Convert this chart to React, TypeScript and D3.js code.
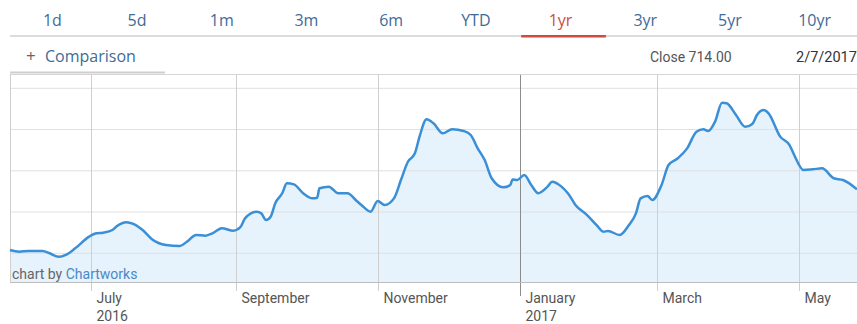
import React from 'react';
import * as d3 from 'd3';

const tabs = ['1d', '5d', '1m', '3m', '6m', 'YTD', '1yr', '3yr', '5yr', '10yr'];
const activeTab = '1yr';
const comparisonLabel = 'Comparison';
const closeLabel = 'Close 714.00';
const closeDate = '2/7/2017';

const dates = [
  '2016-05-27', '2016-05-31', '2016-06-04', '2016-06-10', '2016-06-13', '2016-06-17', '2016-06-20', '2016-06-24',
  '2016-06-30', '2016-07-03', '2016-07-06', '2016-07-10', '2016-07-12', '2016-07-16', '2016-07-19', '2016-07-23',
  '2016-07-27', '2016-08-02', '2016-08-08', '2016-08-11', '2016-08-15', '2016-08-19', '2016-08-22', '2016-08-26',
  '2016-08-31', '2016-09-03', '2016-09-05', '2016-09-10', '2016-09-12', '2016-09-14', '2016-09-16', '2016-09-18',
  '2016-09-21', '2016-09-23', '2016-09-26', '2016-09-30', '2016-10-04', '2016-10-06', '2016-10-07', '2016-10-11',
  '2016-10-15', '2016-10-19', '2016-10-23', '2016-10-25', '2016-10-29', '2016-11-01', '2016-11-04', '2016-11-08',
  '2016-11-11', '2016-11-14', '2016-11-17', '2016-11-19', '2016-11-22', '2016-11-25', '2016-11-29', '2016-12-03',
  '2016-12-08', '2016-12-11', '2016-12-14', '2016-12-17', '2016-12-20', '2016-12-25', '2016-12-28', '2016-12-29',
  '2016-12-31', '2017-01-03', '2017-01-06', '2017-01-09', '2017-01-13', '2017-01-15', '2017-01-19', '2017-01-22',
  '2017-01-25', '2017-01-30', '2017-02-03', '2017-02-06', '2017-02-08', '2017-02-13', '2017-02-17', '2017-02-20',
  '2017-02-22', '2017-02-25', '2017-02-27', '2017-03-03', '2017-03-06', '2017-03-10', '2017-03-14', '2017-03-18',
  '2017-03-21', '2017-03-23', '2017-03-26', '2017-03-29', '2017-03-31', '2017-04-04', '2017-04-08', '2017-04-11',
  '2017-04-13', '2017-04-16', '2017-04-18', '2017-04-23', '2017-04-27', '2017-04-29', '2017-05-03', '2017-05-07',
  '2017-05-11', '2017-05-16', '2017-05-20', '2017-05-26',
];

const prices = [
  702.0, 701.0, 701.4, 701.4, 700.0, 697.9, 699.0, 703.0,
  710.1, 712.1, 712.5, 714.1, 716.5, 718.8, 717.8, 714.1,
  708.5, 705.0, 704.4, 707.0, 711.1, 710.7, 712.1, 715.2,
  713.7, 715.8, 721.2, 725.2, 724.2, 720.2, 722.2, 730.3,
  736.4, 742.4, 741.8, 736.4, 733.3, 733.7, 739.4, 740.4,
  736.4, 736.4, 731.7, 729.3, 725.2, 731.7, 729.3, 733.3,
  744.4, 755.5, 760.6, 770.7, 781.2, 778.8, 772.7, 775.2,
  774.1, 771.7, 763.6, 756.5, 745.5, 740.0, 741.4, 744.8,
  744.4, 747.5, 741.4, 736.4, 740.4, 743.4, 740.4, 735.9,
  729.3, 723.2, 717.2, 713.1, 713.5, 711.1, 717.2, 724.2,
  733.3, 734.7, 732.3, 741.4, 753.5, 757.6, 763.6, 773.7,
  775.2, 774.1, 779.8, 791.3, 790.9, 783.8, 776.7, 778.4,
  783.8, 786.8, 784.8, 770.7, 765.6, 759.6, 750.5, 750.9,
  751.5, 745.5, 744.4, 738.8,
];

const yGridValues = [700, 725, 750, 775, 800];
const monthTicks = ['2016-07-01', '2016-09-01', '2016-11-01', '2017-01-01', '2017-03-01', '2017-05-01'];
const monthLabels = ['July', 'September', 'November', 'January', 'March', 'May'];
const yearLabels = ['2016', '', '', '2017', '', ''];
const domainStart = '2016-05-27';
const domainEnd = '2017-05-26';

const W = 857;
const H = 324;
const plotLeft = 10;
const plotRight = 857;
const plotTop = 74;
const plotBottom = 282;

const parse = d3.timeParse('%Y-%m-%d');

export default function App() {
  const data = dates.map((d, i) => ({ date: parse(d) as Date, value: prices[i] }));
  const x = d3
    .scaleTime()
    .domain([parse(domainStart) as Date, parse(domainEnd) as Date])
    .range([plotLeft, plotRight]);
  const y = d3.scaleLinear().domain([700, 800]).range([253.3, 88.3]);

  const line = d3
    .line<{ date: Date; value: number }>()
    .x((d) => x(d.date))
    .y((d) => y(d.value))
    .curve(d3.curveMonotoneX);
  const area = d3
    .area<{ date: Date; value: number }>()
    .x((d) => x(d.date))
    .y0(plotBottom)
    .y1((d) => y(d.value))
    .curve(d3.curveMonotoneX);

  const tabW = (W - plotLeft) / tabs.length;
  const blue = '#3f6b98';
  const font = "'Open Sans', sans-serif";
  const labelFont = 'Roboto, sans-serif';

  return (
    <div style={{ position: 'absolute', left: 0, top: 0 }}>
      <svg width={W} height={H} style={{ display: 'block', background: '#fff' }}>
        {/* tabs */}
        {tabs.map((t, i) => (
          <text
            key={t}
            x={plotLeft + tabW * (i + 0.5)}
            y={26}
            textAnchor="middle"
            fontFamily={font}
            fontSize={16}
            fontWeight={500}
            fill={t === activeTab ? '#cf4b3c' : blue}
          >
            {t}
          </text>
        ))}
        <rect x={plotLeft} y={35} width={W - plotLeft} height={2} fill="#dcdcdc" />
        {tabs.map((t, i) =>
          t === activeTab ? (
            <rect key={'u' + t} x={plotLeft + tabW * i + 3} y={35} width={tabW} height={2.5} fill="#cf4b3c" />
          ) : null
        )}

        {/* comparison row */}
        <text x={26} y={62} fontFamily={font} fontSize={17} fill="#666">+</text>
        <text x={45} y={62} fontFamily={font} fontSize={16} fontWeight={500} fill={blue}>{comparisonLabel}</text>
        <rect x={plotLeft} y={71.5} width={155} height={2} fill="#cfcfcf" />
        <text x={650} y={62} fontFamily={labelFont} fontSize={14} fill="#555">{closeLabel}</text>
        <text x={796} y={62} fontFamily={labelFont} fontSize={14.5} fill="#333">{closeDate}</text>

        {/* plot */}
        <path d={area(data) || ''} fill="#e6f2fc" />
        {yGridValues.map((v) => (
          <line key={v} x1={plotLeft} x2={plotRight} y1={y(v)} y2={y(v)} stroke="#e0e0e0" strokeWidth={1} />
        ))}
        {monthTicks.map((m, i) => {
          const xx = Math.round(x(parse(m) as Date)) + 0.5;
          const isYear = yearLabels[i] !== '';
          const strong = isYear && i > 0;
          return (
            <g key={m}>
              <line
                x1={xx}
                x2={xx}
                y1={plotTop}
                y2={strong ? 296 : 291}
                stroke={strong ? '#8c8c8c' : '#cfcfcf'}
                strokeWidth={1}
              />
              <text x={xx + 5} y={303} fontFamily={labelFont} fontSize={14} fill="#555">
                {monthLabels[i]}
              </text>
              {isYear && (
                <text x={xx + 5} y={321} fontFamily={labelFont} fontSize={14} fill="#555">
                  {yearLabels[i]}
                </text>
              )}
            </g>
          );
        })}
        <line x1={plotLeft} x2={plotRight} y1={plotTop + 0.5} y2={plotTop + 0.5} stroke="#d6d6d6" />
        <line x1={plotLeft} x2={plotRight} y1={plotBottom + 0.5} y2={plotBottom + 0.5} stroke="#bdbdbd" />
        <line x1={plotLeft + 0.5} x2={plotLeft + 0.5} y1={plotTop} y2={plotBottom} stroke="#cfcfcf" />
        <path d={line(data) || ''} fill="none" stroke="#3a8fd6" strokeWidth={2.5} strokeLinejoin="round" />

        <text x={12} y={279} fontFamily={labelFont} fontSize={14} fill="#666">
          chart by <tspan fill="#4a89c6">Chartworks</tspan>
        </text>
      </svg>
    </div>
  );
}
